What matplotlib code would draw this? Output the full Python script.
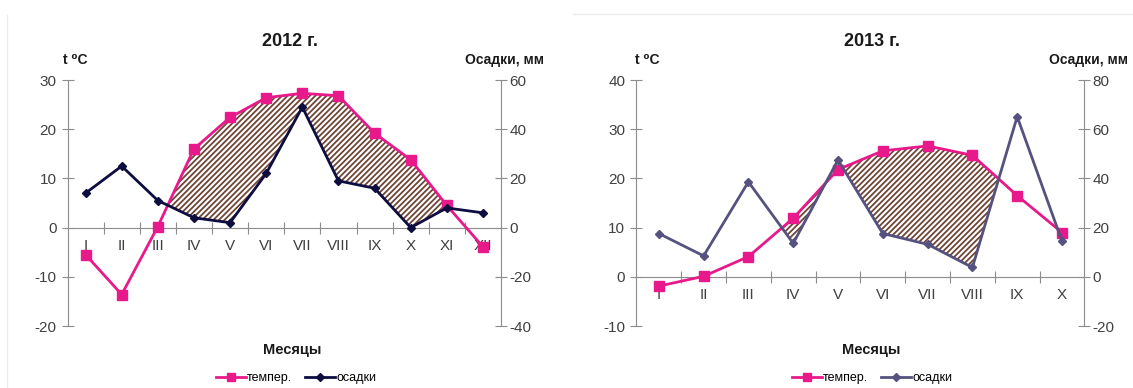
import matplotlib
matplotlib.use('Agg')

import matplotlib.pyplot as plt
import numpy as np
from matplotlib.lines import Line2D

months_2012 = ['I', 'II', 'III', 'IV', 'V', 'VI', 'VII', 'VIII', 'IX', 'X', 'XI', 'XII']
temp_2012 = [-5.5, -13.6, 0.2, 16.0, 22.4, 26.4, 27.3, 26.8, 19.2, 13.8, 4.5, -3.9]
prec_2012 = [14, 25, 11, 4, 2, 22, 49, 19, 16, 0, 8, 6]

months_2013 = ['I', 'II', 'III', 'IV', 'V', 'VI', 'VII', 'VIII', 'IX', 'X']
temp_2013 = [-1.9, 0.1, 4.1, 11.9, 21.8, 25.6, 26.6, 24.7, 16.5, 9.0]
prec_2013 = [17.6, 8.5, 38.6, 13.6, 47.5, 17.6, 13.2, 3.8, 65.1, 14.5]

TEMP_COLOR = '#e8198b'
AXIS_GRAY = '#8c8c8c'
TEXT_GRAY = '#404040'
HATCH_BROWN = '#6e4536'

plt.rcParams['font.family'] = ['Liberation Sans', 'DejaVu Sans']
plt.rcParams['axes.unicode_minus'] = False
plt.rcParams['hatch.linewidth'] = 1.3
plt.rcParams['hatch.color'] = HATCH_BROWN

W, H = 1133, 388
fig = plt.figure(figsize=(W / 100, H / 100), dpi=100)


def px(x, y):
    return x / W, 1 - y / H


def draw_panel(rect, months, temp, prec, tlim, plim, prec_color, dry_until):
    ax = fig.add_axes(rect)
    ax2 = ax.twinx()
    n = len(months)
    x = np.arange(n)
    temp = np.asarray(temp, dtype=float)
    prec = np.asarray(prec, dtype=float)

    ax.set_xlim(-0.5, n - 0.5)
    ax.set_ylim(*tlim)
    ax2.set_ylim(*plim)

    # precipitation expressed in temperature units (both axes share zero)
    p_as_t = tlim[0] + (prec - plim[0]) * (tlim[1] - tlim[0]) / (plim[1] - plim[0])
    dry = (temp > p_as_t) & (x <= dry_until)
    ax.fill_between(x, temp, p_as_t, where=dry, interpolate=True,
                    facecolor='white', edgecolor=HATCH_BROWN, hatch='//////',
                    linewidth=0, zorder=1)

    ax.plot(x, temp, color=TEMP_COLOR, lw=2, marker='s', ms=6.5,
            zorder=3, label='темпер.')
    ax2.plot(x, prec, color=prec_color, lw=2, marker='D', ms=4.5,
             zorder=3, label='осадки')

    for a in (ax, ax2):
        a.patch.set_visible(False)
        for s in a.spines.values():
            s.set_visible(False)
    ax.spines['left'].set_visible(True)
    ax.spines['left'].set_color(AXIS_GRAY)
    ax2.spines['right'].set_visible(True)
    ax2.spines['right'].set_color(AXIS_GRAY)
    ax.spines['bottom'].set_visible(True)
    ax.spines['bottom'].set_position(('data', 0))
    ax.spines['bottom'].set_color(AXIS_GRAY)

    ax.set_yticks(np.arange(tlim[0], tlim[1] + 1, 10))
    ax2.set_yticks(np.arange(plim[0], plim[1] + 1, 20))
    ax.tick_params(axis='y', direction='inout', length=8, color=AXIS_GRAY,
                   labelcolor=TEXT_GRAY, labelsize=11, pad=4)
    ax2.tick_params(axis='y', direction='inout', length=8, color=AXIS_GRAY,
                    labelcolor=TEXT_GRAY, labelsize=11, pad=2)

    # boundary ticks on the zero line, month labels at category centres
    ax.set_xticks(np.arange(0.5, n - 1, 1.0))
    ax.set_xticklabels([])
    ax.set_xticks(x, minor=True)
    ax.set_xticklabels(months, minor=True)
    ax.tick_params(axis='x', which='major', direction='inout', length=9,
                   color=AXIS_GRAY)
    ax.tick_params(axis='x', which='minor', length=0, labelcolor=TEXT_GRAY,
                   labelsize=11, pad=8)
    return ax, ax2


def draw_texts(title, title_x, left_x, right_x, mid_x, leg_x, ax, ax2):
    fig.text(*px(title_x, 42), title, ha='center', va='center',
             fontsize=13, fontweight='bold', color='#1a1a1a')
    fig.text(*px(left_x, 60), 't \u2070C', ha='left', va='center',
             fontsize=10, fontweight='bold', color='#1a1a1a')
    fig.text(*px(right_x, 60), 'Осадки, мм', ha='right', va='center',
             fontsize=10, fontweight='bold', color='#1a1a1a')
    fig.text(*px(mid_x, 350), 'Месяцы', ha='center', va='center',
             fontsize=10.5, fontweight='bold', color='#1a1a1a')
    handles = ax.get_lines()[:1] + ax2.get_lines()[:1]
    fig.legend(handles, [h.get_label() for h in handles],
               loc='center', bbox_to_anchor=px(leg_x, 378), ncol=2,
               frameon=False, fontsize=9, handlelength=2.4,
               handletextpad=0.1, columnspacing=1.0, markerscale=0.85)


ax_a, ax_a2 = draw_panel([67.5 / W, 1 - 326 / H, 433.5 / W, 246 / H],
                         months_2012, temp_2012, prec_2012, (-20, 30), (-40, 60),
                         '#0d0d40', 11)
draw_texts('2012 г.', 290, 63, 544, 292, 296, ax_a, ax_a2)

ax_b, ax_b2 = draw_panel([636.4 / W, 1 - 326 / H, 448 / W, 246 / H],
                         months_2013, temp_2013, prec_2013, (-10, 40), (-20, 80),
                         '#55527f', 8)
draw_texts('2013 г.', 872, 635, 1128, 871, 872, ax_b, ax_b2)

# faint frame edges of the two chart boxes
fig.add_artist(Line2D([7 / W, 7 / W], [0, 1 - 15 / H], color='#ececec', lw=1))
fig.add_artist(Line2D([573 / W, 1], [1 - 14 / H, 1 - 14 / H], color='#ececec', lw=1))

fig.savefig('out.png', dpi=100)
plt.close(fig)
